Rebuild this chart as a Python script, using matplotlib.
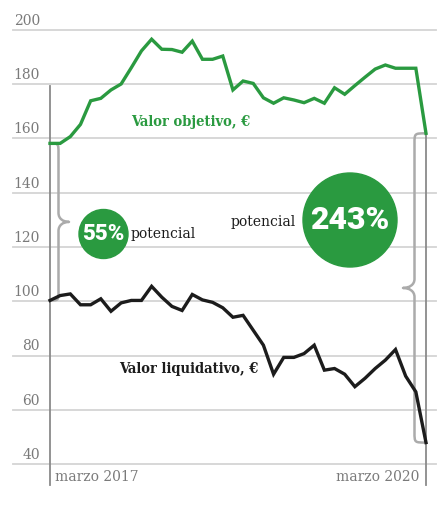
import matplotlib
matplotlib.use("Agg")
import matplotlib.pyplot as plt
from matplotlib.patches import Ellipse, PathPatch
from matplotlib.path import Path
import numpy as np

# valores mensuales, marzo 2017 -> marzo 2020
valor_objetivo = [158.2, 158.2, 160.7, 165.2, 173.9, 174.8, 177.9, 180.1, 186.1, 192.3,
                  196.6, 192.9, 192.8, 191.8, 195.9, 189.2, 189.2, 190.4, 177.9, 181.2,
                  180.3, 175.0, 173.0, 175.0, 174.2, 173.2, 174.8, 173.0, 178.7, 176.3,
                  179.5, 182.6, 185.6, 187.1, 185.9, 185.9, 185.9, 161.9]
valor_liquidativo = [100.3, 102.1, 102.7, 98.7, 98.7, 100.9, 96.3, 99.4, 100.3, 100.3,
                     105.5, 101.5, 98.1, 96.6, 102.5, 100.5, 99.6, 97.6, 94.1, 94.8,
                     89.3, 83.8, 73.1, 79.3, 79.3, 80.7, 83.8, 74.6, 75.2, 73.1,
                     68.5, 71.6, 75.2, 78.3, 82.2, 72.4, 66.6, 47.9]
y_ticks = [40, 60, 80, 100, 120, 140, 160, 180, 200]
x_labels = ["marzo 2017", "marzo 2020"]
potencial = ["55%", "243%"]

GREEN = "#2a9a40"
BLACK = "#1c1c1c"
GRID = "#d4d4d4"
AXIS = "#8a8a8a"
LABEL = "#7a7a7a"
BRACE = "#ababab"

x = np.arange(len(valor_objetivo))
n = len(x) - 1

fig = plt.figure(figsize=(4.45, 5.05), dpi=100)
ax = fig.add_axes([0, 0, 1, 1])
ax.axis("off")

# escalas: px por unidad
PX_X = (426 - 50) / n
PX_Y = 2.7125
ax.set_xlim(-50 / PX_X, n + (445 - 426) / PX_X)
ax.set_ylim(200 - 475 / PX_Y, 200 + 30 / PX_Y)

# rejilla horizontal + etiquetas
for t in y_ticks:
    ax.plot([-37 / PX_X, n + 10 / PX_X], [t, t], color=GRID, lw=1.3, zorder=1)
    ax.text(-10 / PX_X, t + 5 / PX_Y, str(t), ha="right", va="baseline",
            color=LABEL, fontsize=10, family="DejaVu Serif", zorder=2)

# lineas verticales de inicio y fin
bottom = 200 - 455 / PX_Y
ax.plot([0, 0], [valor_objetivo[0] + 21, bottom], color=AXIS, lw=1.3, zorder=2)
ax.plot([n, n], [valor_objetivo[-1], bottom], color=AXIS, lw=1.3, zorder=2)


def brace(xe, xm, xt, yt, yb):
    ym = (yt + yb) / 2
    r = 10 / PX_Y
    rt = 9 / PX_Y
    verts = [(xe, yt), (xm, yt), (xm, yt), (xm, yt - r),
             (xm, ym + rt),
             (xm, ym + rt * 0.35), (xm + (xt - xm) * 0.45, ym), (xt, ym),
             (xm + (xt - xm) * 0.45, ym), (xm, ym - rt * 0.35), (xm, ym - rt),
             (xm, yb + r),
             (xm, yb), (xm, yb), (xe, yb)]
    codes = [Path.MOVETO, Path.CURVE4, Path.CURVE4, Path.CURVE4,
             Path.LINETO,
             Path.CURVE4, Path.CURVE4, Path.CURVE4,
             Path.CURVE4, Path.CURVE4, Path.CURVE4,
             Path.LINETO,
             Path.CURVE4, Path.CURVE4, Path.CURVE4]
    ax.add_patch(PathPatch(Path(verts, codes), fill=False, edgecolor=BRACE, lw=1.8,
                           zorder=3, capstyle="round", joinstyle="round"))


brace(0, 8.5 / PX_X, 19 / PX_X, valor_objetivo[0], valor_liquidativo[0])
brace(n, n - 11.5 / PX_X, n - 23 / PX_X, valor_objetivo[-1], valor_liquidativo[-1])

# series
ax.plot(x, valor_objetivo, color=GREEN, lw=2.4, zorder=4, solid_joinstyle="miter")
ax.plot(x, valor_liquidativo, color=BLACK, lw=2.4, zorder=4, solid_joinstyle="miter")

ax.text(81 / PX_X, 200 - (122 - 30) / PX_Y, "Valor objetivo, €", color=GREEN,
        fontsize=10.5, fontweight="bold", family="DejaVu Serif", stretch="condensed",
        va="center", ha="left", zorder=5)
ax.text(208 / PX_X, 200 - (369 - 30) / PX_Y, "Valor liquidativo, €", color=BLACK,
        fontsize=10.5, fontweight="bold", family="DejaVu Serif", stretch="condensed",
        va="center", ha="right", zorder=5)

# circulos de potencial
c1 = ((103.5 - 50) / PX_X, 200 - (234 - 30) / PX_Y)
c2 = ((350 - 50) / PX_X, 200 - (220 - 30) / PX_Y)
ax.add_patch(Ellipse(c1, 2 * 24.5 / PX_X, 2 * 24.5 / PX_Y, color=GREEN, zorder=5))
ax.add_patch(Ellipse(c2, 2 * 47 / PX_X, 2 * 47 / PX_Y, color=GREEN, zorder=5))
ax.text(c1[0], c1[1], potencial[0], color="white", fontsize=16, fontweight=900,
        family="Roboto", ha="center", va="center", zorder=6)
ax.text(c2[0], c2[1], potencial[1], color="white", fontsize=23, fontweight=900,
        family="Roboto", ha="center", va="center", zorder=6)
ax.text(c1[0] + 27 / PX_X, c1[1], "potencial", color=BLACK, fontsize=10,
        family="DejaVu Serif", ha="left", va="center", zorder=6)
ax.text(c2[0] - 54 / PX_X, c2[1] - 2 / PX_Y, "potencial", color=BLACK, fontsize=10,
        family="DejaVu Serif", ha="right", va="center", zorder=6)

# etiquetas de fecha
ax.text(5 / PX_X, 200 - (477 - 30) / PX_Y, x_labels[0], color=LABEL, fontsize=10,
        family="DejaVu Serif", ha="left", va="center")
ax.text(n - 7 / PX_X, 200 - (477 - 30) / PX_Y, x_labels[1], color=LABEL, fontsize=10,
        family="DejaVu Serif", ha="right", va="center")

fig.savefig("out.png", dpi=100)
